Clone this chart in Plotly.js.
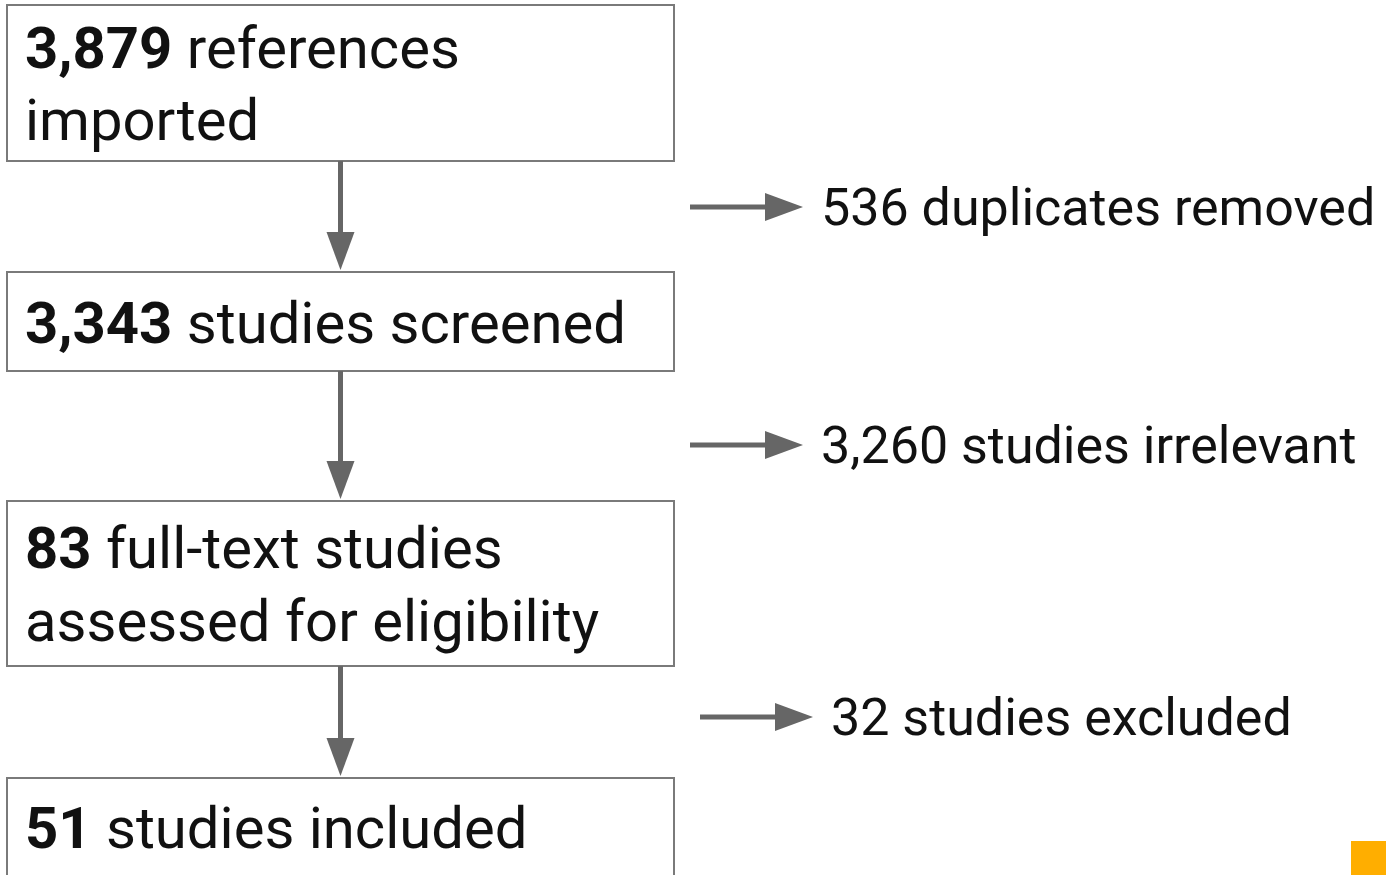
<!DOCTYPE html>
<html>
<head>
<meta charset="utf-8">
<script src="https://cdn.plot.ly/plotly-3.0.1.min.js"></script>
<style>html,body{margin:0;padding:0;background:#fff;overflow:hidden}#chart{width:1386px;height:875px}</style>
</head>
<body>
<div id="chart"></div>
<script>
// ---- data ----
const stageCounts = [3879, 3343, 83, 51];
const stageLines = [
  ["references", "imported"],
  ["studies screened"],
  ["full-text studies", "assessed for eligibility"],
  ["studies included"]
];
const exclusionCounts = [536, 3260, 32];
const exclusionLabels = ["duplicates removed", "studies irrelevant", "studies excluded"];

// ---- geometry ----
const W = 1386, H = 875;
const boxX0 = 7, boxX1 = 674;
const boxTops = [5, 272, 501, 778];
const boxBottoms = [161, 371, 666, 905];
const lineCenters = [[48, 120], [323], [548, 621], [828]];
const sideY = [207, 445, 717];
const sideArrowX0 = [690, 690, 700];
const sideArrowLen = 113;
const headLen = 38, headHalf = 14;
const arrowColor = "#666666";
const textColor = "#111111";
const fontFam = "Roboto, 'Open Sans', sans-serif";
const boxFont = 58, sideFont = 52;

const fmt = n => n.toLocaleString("en-US");
const shapes = [];
const annotations = [];
const cx = (boxX0 + boxX1) / 2;

stageCounts.forEach((c, i) => {
  shapes.push({type: "rect", xref: "x", yref: "y", x0: boxX0, x1: boxX1, y0: boxTops[i], y1: boxBottoms[i],
    line: {color: "#7a7a7a", width: 2}, fillcolor: "rgba(0,0,0,0)"});
  stageLines[i].forEach((t, j) => {
    const txt = j === 0 ? "<b>" + fmt(c) + "</b> " + t : t;
    annotations.push({xref: "x", yref: "y", x: 23, y: lineCenters[i][j], xanchor: "left", yanchor: "middle",
      text: txt, showarrow: false, font: {family: fontFam, size: boxFont, color: textColor}});
  });
  if (i < stageCounts.length - 1) {
    const y0 = boxBottoms[i], tip = boxTops[i + 1] - 2;
    shapes.push({type: "line", xref: "x", yref: "y", x0: cx, x1: cx, y0: y0, y1: tip - headLen + 2,
      line: {color: arrowColor, width: 5}});
    shapes.push({type: "path", xref: "x", yref: "y",
      path: `M ${cx - headHalf},${tip - headLen} L ${cx + headHalf},${tip - headLen} L ${cx},${tip} Z`,
      fillcolor: arrowColor, line: {width: 0}});
  }
});

exclusionCounts.forEach((c, i) => {
  const x0 = sideArrowX0[i], xt = x0 + sideArrowLen, y = sideY[i];
  shapes.push({type: "line", xref: "x", yref: "y", x0: x0, x1: xt - headLen + 2, y0: y, y1: y,
    line: {color: arrowColor, width: 5}});
  shapes.push({type: "path", xref: "x", yref: "y",
    path: `M ${xt - headLen},${y - headHalf} L ${xt - headLen},${y + headHalf} L ${xt},${y} Z`,
    fillcolor: arrowColor, line: {width: 0}});
  annotations.push({xref: "x", yref: "y", x: xt + 16, y: y, xanchor: "left", yanchor: "middle",
    text: fmt(c) + " " + exclusionLabels[i], showarrow: false, font: {family: fontFam, size: sideFont, color: textColor}});
});

// small orange corner marker
shapes.push({type: "rect", xref: "x", yref: "y", x0: 1351, x1: 1390, y0: 841, y1: 880,
  fillcolor: "#FFAE00", line: {width: 0}});

const layout = {
  width: W, height: H,
  margin: {l: 0, r: 0, t: 0, b: 0},
  paper_bgcolor: "#ffffff", plot_bgcolor: "#ffffff",
  xaxis: {range: [0, W], visible: false, fixedrange: true},
  yaxis: {range: [H, 0], visible: false, fixedrange: true},
  showlegend: false,
  shapes: shapes,
  annotations: annotations
};
Plotly.newPlot("chart", [], layout, {displayModeBar: false, staticPlot: true});
</script>
</body>
</html>
